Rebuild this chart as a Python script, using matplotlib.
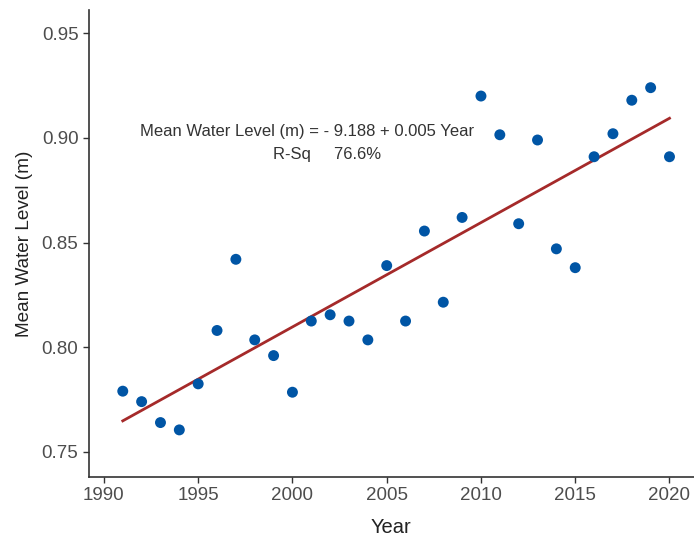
import numpy as np
import matplotlib
matplotlib.use("Agg")
import matplotlib.pyplot as plt

plt.rcParams['font.family'] = ['Liberation Sans', 'DejaVu Sans']

years = [1991, 1992, 1993, 1994, 1995, 1996, 1997, 1998, 1999, 2000,
         2001, 2002, 2003, 2004, 2005, 2006, 2007, 2008, 2009, 2010,
         2011, 2012, 2013, 2014, 2015, 2016, 2017, 2018, 2019, 2020]
water_level = [0.779, 0.774, 0.764, 0.7605, 0.7825, 0.808, 0.842, 0.8035, 0.796, 0.7785,
               0.8125, 0.8155, 0.8125, 0.8035, 0.839, 0.8125, 0.8555, 0.8215, 0.862, 0.920,
               0.9015, 0.859, 0.899, 0.847, 0.838, 0.891, 0.902, 0.918, 0.924, 0.891]
xticks = [1990, 1995, 2000, 2005, 2010, 2015, 2020]
yticks = [0.75, 0.80, 0.85, 0.90, 0.95]

x = np.array(years, dtype=float)
y = np.array(water_level)
slope, intercept = np.polyfit(x, y, 1)

fig = plt.figure(figsize=(6.94, 5.38), dpi=100)
ax = fig.add_axes([0.128, 0.1134, 0.872, 0.8676])

xl = np.array([x.min(), x.max()])
ax.plot(xl, intercept + slope * xl, color='#A52A2A', lw=2, zorder=2)
ax.scatter(x, y, s=62, color='#0055A5', zorder=3, edgecolors='none')

ax.set_xlim(1989.2, 2021.3)
ax.set_ylim(0.738, 0.961)
ax.set_xticks(xticks)
ax.set_yticks(yticks)
ax.set_yticklabels([f"{v:.2f}" for v in yticks])
ax.spines['top'].set_visible(False)
ax.spines['right'].set_visible(False)
for s in ['left', 'bottom']:
    ax.spines[s].set_linewidth(1.2)
    ax.spines[s].set_color('#333333')
ax.tick_params(axis='both', labelsize=13.5, colors='#333333', length=4, width=1)
ax.tick_params(axis='both', labelcolor='#4D4D4D')
ax.set_xlabel('Year', fontsize=14.5, color='#222222', labelpad=10)
ax.set_ylabel('Mean Water Level (m)', fontsize=13.7, color='#222222', labelpad=6)

ax.text(0.36, 0.741, 'Mean Water Level (m) = - 9.188 + 0.005 Year', transform=ax.transAxes,
        ha='center', va='center', fontsize=12, color='#333333')
ax.text(0.304, 0.690, 'R-Sq     76.6%', transform=ax.transAxes,
        ha='left', va='center', fontsize=12, color='#333333')

fig.savefig('out.png', dpi=100)
